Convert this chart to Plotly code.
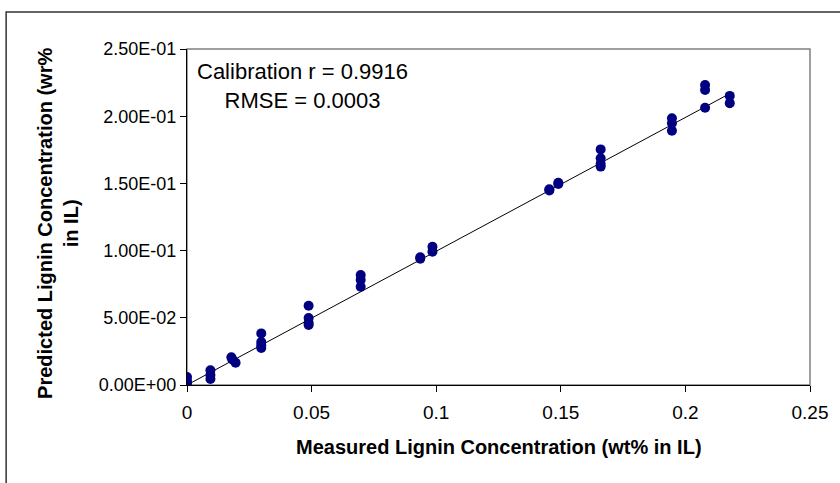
import plotly.graph_objects as go

# Measured vs predicted lignin concentration (wt% in IL)
measured = [0, 0, 0,
            0.0094, 0.0094, 0.0094,
            0.0178, 0.0182, 0.0195,
            0.0298, 0.0298, 0.0298, 0.0298,
            0.0488, 0.0488, 0.0488, 0.0488,
            0.0697, 0.0697, 0.0697,
            0.0936, 0.0936,
            0.0985, 0.0985,
            0.1454, 0.1454,
            0.1490, 0.1490,
            0.1660, 0.1660, 0.1660, 0.1660,
            0.1946, 0.1946, 0.1946,
            0.2079, 0.2079, 0.2079,
            0.2178, 0.2178]
predicted = [0.006, 0.003, 0.001,
             0.011, 0.0075, 0.0045,
             0.0206, 0.019, 0.0166,
             0.0384, 0.032, 0.0295, 0.0275,
             0.059, 0.0499, 0.0462, 0.0447,
             0.0819, 0.0782, 0.0731,
             0.0951, 0.0940,
             0.1029, 0.0992,
             0.1457, 0.1448,
             0.1505, 0.1496,
             0.1753, 0.1687, 0.1646, 0.1625,
             0.1985, 0.1948, 0.1892,
             0.2232, 0.2195, 0.2063,
             0.2151, 0.2097]

fit_x = [0.0, 0.2175]
fit_y = [0.0, 0.2165]

x_ticks = [0, 0.05, 0.1, 0.15, 0.2, 0.25]
x_ticktext = ["0", "0.05", "0.1", "0.15", "0.2", "0.25"]
y_ticks = [0, 0.05, 0.1, 0.15, 0.2, 0.25]
y_ticktext = ["0.00E+00", "5.00E-02", "1.00E-01", "1.50E-01", "2.00E-01", "2.50E-01"]

FONT = "Liberation Sans, Arial, sans-serif"

fig = go.Figure()
fig.add_trace(go.Scatter(x=fit_x, y=fit_y, mode="lines",
                         line=dict(color="black", width=1), showlegend=False,
                         hoverinfo="skip"))
fig.add_trace(go.Scatter(x=measured, y=predicted, mode="markers",
                         marker=dict(color="#000080", size=10), showlegend=False))

fig.update_layout(
    width=840, height=483,
    margin=dict(l=187, r=26, t=49, b=98),
    paper_bgcolor="white", plot_bgcolor="white",
    font=dict(family=FONT, color="black", size=18),
    xaxis=dict(range=[0, 0.25], tickvals=x_ticks, ticktext=x_ticktext,
               showgrid=False, zeroline=False, showline=True, linecolor="black",
               linewidth=1, ticks="outside", ticklen=6, tickcolor="black",
               ticklabelstandoff=4,
               tickfont=dict(size=19, family=FONT)),
    yaxis=dict(range=[0, 0.25], tickvals=y_ticks, ticktext=y_ticktext,
               showgrid=False, zeroline=False, showline=True, linecolor="black",
               linewidth=1, ticks="outside", ticklen=6, tickcolor="black",
               tickfont=dict(size=18, family=FONT)),
    shapes=[
        dict(type="rect", xref="paper", yref="paper", x0=0, x1=1, y0=0, y1=1,
             line=dict(color="#808080", width=1.5), layer="below"),
        dict(type="rect", xref="paper", yref="paper", x0=-0.2903, x1=1.06,
             y0=-0.33, y1=1.110, line=dict(color="#333333", width=1.5), layer="below"),
    ],
    annotations=[
        dict(text="Calibration r = 0.9916<br>RMSE = 0.0003", xref="paper", yref="paper",
             x=0.185, y=0.89, xanchor="center", yanchor="middle", showarrow=False,
             align="center", font=dict(size=22, family=FONT)),
        dict(text="<b>Measured Lignin Concentration (wt% in IL)</b>", xref="paper",
             yref="paper", x=0.5, y=-0.1834, xanchor="center", yanchor="middle",
             showarrow=False, font=dict(size=20, family=FONT)),
        dict(text="<b>Predicted Lignin Concentration (wr%<br>in IL)</b>", xref="paper",
             yref="paper", x=-0.2073, y=0.482, xanchor="center", yanchor="middle",
             textangle=-90, showarrow=False, align="center",
             font=dict(size=20, family=FONT)),
    ],
)

fig.write_html("out.html")
